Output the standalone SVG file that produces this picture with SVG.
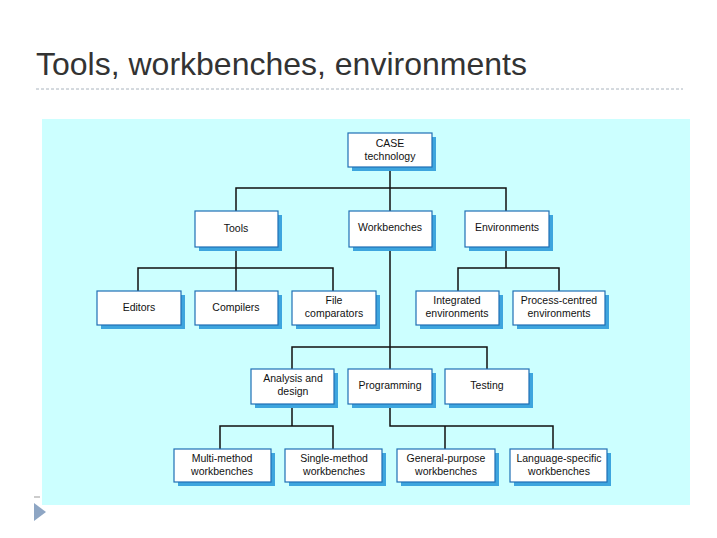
<svg xmlns="http://www.w3.org/2000/svg" width="717" height="538" viewBox="0 0 717 538">
<style>
.b{fill:#fff;stroke:#1f6fb5;stroke-width:1.2}
.s{fill:#3da5de}
text{font-family:"Liberation Sans",Arial,sans-serif;font-size:10.5px;fill:#111;text-anchor:middle}
.c{fill:none;stroke:#111;stroke-width:1.5}
</style>
<rect width="717" height="538" fill="#fff"/>
<text x="36" y="75" style="font-size:32px;text-anchor:start;fill:#333">Tools, workbenches, environments</text>
<line x1="36" y1="89" x2="683" y2="89" stroke="#aab4be" stroke-dasharray="3,2"/>
<rect x="42" y="119" width="648" height="386" fill="#ccffff"/>
<line x1="34" y1="497" x2="40" y2="497" stroke="#999"/>
<polygon points="34,503 46,512 34,521" fill="#8ea6c4"/>
<g id="connectors" class="c">
<path d="M390 167V211M236 211V188H506V211"/>
<path d="M236 247V291M138 291V268H333V291"/>
<path d="M506 247V268M458 291V268H559V291"/>
<path d="M390 247V369M292 369V347H487V369"/>
<path d="M292 404V426M220 449V426H333V449"/>
<path d="M390 404V426H553V449M445 426V449"/>
</g>
<g id="case"><rect class="s" x="352" y="137" width="84" height="34"/><rect class="b" x="348" y="133" width="84" height="34"/><text x="390" y="147">CASE</text><text x="390" y="160">technology</text></g>
<g id="tools"><rect class="s" x="199" y="215" width="83" height="36"/><rect class="b" x="195" y="211" width="83" height="36"/><text x="236" y="232">Tools</text></g>
<g id="workbenches"><rect class="s" x="353" y="215" width="83" height="36"/><rect class="b" x="349" y="211" width="83" height="36"/><text x="390" y="231">Workbenches</text></g>
<g id="environments"><rect class="s" x="469" y="215" width="84" height="36"/><rect class="b" x="465" y="211" width="84" height="36"/><text x="507" y="231">Environments</text></g>
<g id="editors"><rect class="s" x="101" y="295" width="84" height="34"/><rect class="b" x="97" y="291" width="84" height="34"/><text x="139" y="311">Editors</text></g>
<g id="compilers"><rect class="s" x="199" y="295" width="83" height="34"/><rect class="b" x="195" y="291" width="83" height="34"/><text x="236" y="311">Compilers</text></g>
<g id="filecomp"><rect class="s" x="296" y="295" width="84" height="34"/><rect class="b" x="292" y="291" width="84" height="34"/><text x="334" y="304">File</text><text x="334" y="317">comparators</text></g>
<g id="integrated"><rect class="s" x="420" y="295" width="83" height="34"/><rect class="b" x="416" y="291" width="83" height="34"/><text x="457" y="304">Integrated</text><text x="457" y="317">environments</text></g>
<g id="process"><rect class="s" x="517" y="295" width="92" height="34"/><rect class="b" x="513" y="291" width="92" height="34"/><text x="559" y="304">Process-centred</text><text x="559" y="317">environments</text></g>
<g id="analysis"><rect class="s" x="255" y="373" width="83" height="35"/><rect class="b" x="251" y="369" width="83" height="35"/><text x="293" y="382">Analysis and</text><text x="293" y="395">design</text></g>
<g id="programming"><rect class="s" x="352" y="373" width="84" height="35"/><rect class="b" x="348" y="369" width="84" height="35"/><text x="390" y="389">Programming</text></g>
<g id="testing"><rect class="s" x="449" y="373" width="84" height="35"/><rect class="b" x="445" y="369" width="84" height="35"/><text x="487" y="389">Testing</text></g>
<g id="multi"><rect class="s" x="178" y="453" width="97" height="33"/><rect class="b" x="174" y="449" width="97" height="33"/><text x="222" y="462">Multi-method</text><text x="222" y="475">workbenches</text></g>
<g id="single"><rect class="s" x="289" y="453" width="97" height="33"/><rect class="b" x="285" y="449" width="97" height="33"/><text x="334" y="462">Single-method</text><text x="334" y="475">workbenches</text></g>
<g id="general"><rect class="s" x="401" y="453" width="98" height="33"/><rect class="b" x="397" y="449" width="98" height="33"/><text x="446" y="462">General-purpose</text><text x="446" y="475">workbenches</text></g>
<g id="language"><rect class="s" x="514" y="453" width="97" height="33"/><rect class="b" x="510" y="449" width="97" height="33"/><text x="559" y="462">Language-specific</text><text x="559" y="475">workbenches</text></g>
</svg>
